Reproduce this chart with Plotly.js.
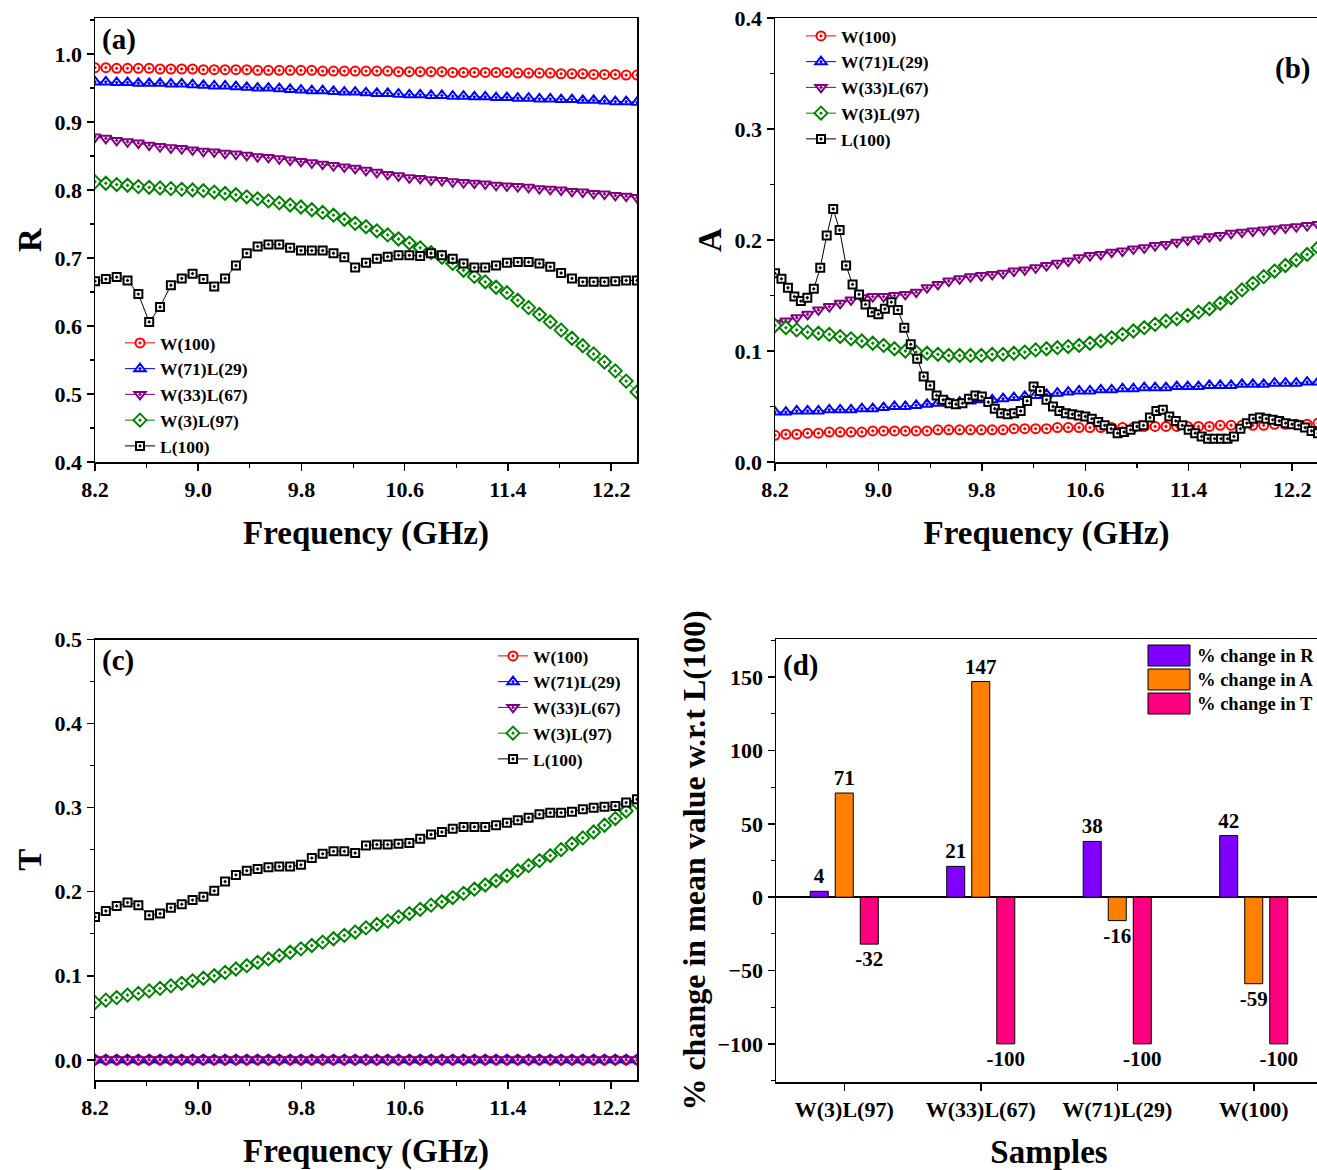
<!DOCTYPE html>
<html>
<head>
<meta charset="utf-8">
<script src="https://cdn.plot.ly/plotly-3.0.1.min.js"></script>
<style>
  html, body { margin: 0; padding: 0; overflow: hidden; background: #fff; }
  #chart { width: 1322px; height: 1170px; }
</style>
</head>
<body>
<div id="chart"></div>
<script>
// ---------------- DATA ----------------
const seriesNames = ['W(100)', 'W(71)L(29)', 'W(33)L(67)', 'W(3)L(97)', 'L(100)'];

const freq = [8.2,8.284,8.368,8.452,8.536,8.62,8.704,8.788,8.872,8.956,9.04,9.124,9.208,9.292,9.376,9.46,9.544,9.628,9.712,9.796,9.88,9.964,10.048,10.132,10.216,10.3,10.384,10.468,10.552,10.636,10.72,10.804,10.888,10.972,11.056,11.14,11.224,11.308,11.392,11.476,11.56,11.644,11.728,11.812,11.896,11.98,12.064,12.148,12.232,12.316,12.4];

const freqFine = [8.2,8.25,8.3,8.35,8.4,8.45,8.5,8.55,8.6,8.65,8.7,8.75,8.8,8.85,8.9,8.95,9.0,9.05,9.1,9.15,9.2,9.25,9.3,9.35,9.4,9.45,9.5,9.55,9.6,9.65,9.7,9.75,9.8,9.85,9.9,9.95,10.0,10.05,10.1,10.15,10.2,10.25,10.3,10.35,10.4,10.45,10.5,10.55,10.6,10.65,10.7,10.75,10.8,10.85,10.9,10.95,11.0,11.05,11.1,11.15,11.2,11.25,11.3,11.35,11.4,11.45,11.5,11.55,11.6,11.65,11.7,11.75,11.8,11.85,11.9,11.95,12.0,12.05,12.1,12.15,12.2,12.25,12.3,12.35,12.4];

// (a) Reflection R
const R_W100 = [0.980,0.980,0.979,0.979,0.979,0.979,0.978,0.978,0.978,0.978,0.977,0.977,0.977,0.977,0.977,0.976,0.976,0.976,0.976,0.976,0.976,0.975,0.975,0.975,0.975,0.975,0.975,0.975,0.974,0.974,0.974,0.974,0.974,0.973,0.973,0.973,0.973,0.973,0.973,0.972,0.972,0.972,0.972,0.971,0.971,0.971,0.970,0.970,0.970,0.969,0.969];
const R_W71L29 = [0.959,0.959,0.958,0.958,0.957,0.957,0.957,0.956,0.956,0.955,0.954,0.953,0.953,0.952,0.951,0.950,0.950,0.949,0.948,0.947,0.946,0.946,0.945,0.944,0.944,0.943,0.942,0.942,0.941,0.940,0.940,0.939,0.939,0.938,0.938,0.937,0.937,0.936,0.936,0.935,0.935,0.934,0.934,0.933,0.933,0.932,0.932,0.931,0.930,0.930,0.929];
const R_W33L67 = [0.878,0.876,0.873,0.871,0.869,0.866,0.864,0.862,0.861,0.859,0.857,0.856,0.854,0.853,0.851,0.849,0.848,0.846,0.844,0.842,0.840,0.838,0.836,0.834,0.832,0.829,0.826,0.823,0.821,0.818,0.817,0.815,0.814,0.812,0.811,0.810,0.809,0.807,0.806,0.805,0.804,0.802,0.801,0.800,0.798,0.797,0.795,0.794,0.792,0.791,0.789];
const R_W3L97 = [0.812,0.810,0.808,0.807,0.805,0.804,0.803,0.802,0.801,0.800,0.799,0.797,0.795,0.793,0.790,0.787,0.784,0.781,0.778,0.775,0.771,0.767,0.763,0.757,0.751,0.746,0.740,0.734,0.728,0.722,0.715,0.708,0.701,0.692,0.682,0.673,0.665,0.657,0.649,0.638,0.627,0.617,0.606,0.594,0.582,0.571,0.559,0.547,0.534,0.519,0.503];
const R_L100 = [0.666,0.669,0.672,0.667,0.647,0.606,0.628,0.660,0.670,0.677,0.669,0.658,0.670,0.689,0.707,0.717,0.720,0.720,0.715,0.711,0.711,0.711,0.707,0.701,0.686,0.693,0.699,0.702,0.704,0.704,0.703,0.707,0.704,0.699,0.692,0.686,0.686,0.689,0.693,0.694,0.694,0.692,0.687,0.678,0.670,0.665,0.665,0.665,0.666,0.667,0.667];

// (b) Absorption A
const A_W100 = [0.024,0.025,0.025,0.026,0.026,0.027,0.027,0.027,0.027,0.028,0.028,0.028,0.028,0.028,0.028,0.029,0.029,0.029,0.029,0.029,0.029,0.029,0.030,0.030,0.030,0.030,0.031,0.031,0.031,0.031,0.031,0.031,0.031,0.031,0.032,0.032,0.032,0.032,0.032,0.032,0.032,0.033,0.033,0.033,0.033,0.033,0.034,0.034,0.034,0.034,0.035];
const A_W71L29 = [0.045,0.045,0.046,0.046,0.046,0.047,0.047,0.047,0.048,0.048,0.049,0.050,0.050,0.051,0.052,0.053,0.053,0.054,0.055,0.056,0.056,0.057,0.058,0.059,0.060,0.061,0.062,0.063,0.064,0.064,0.065,0.065,0.066,0.066,0.067,0.067,0.067,0.068,0.068,0.068,0.069,0.069,0.069,0.070,0.070,0.070,0.071,0.071,0.071,0.072,0.072];
const A_W33L67 = [0.125,0.127,0.130,0.133,0.137,0.140,0.143,0.146,0.148,0.149,0.149,0.150,0.151,0.153,0.157,0.160,0.163,0.165,0.167,0.168,0.169,0.170,0.172,0.173,0.175,0.177,0.179,0.181,0.184,0.186,0.187,0.189,0.190,0.192,0.193,0.195,0.196,0.198,0.200,0.201,0.203,0.204,0.206,0.207,0.208,0.209,0.210,0.211,0.212,0.213,0.214];
const A_W3L97 = [0.123,0.121,0.119,0.117,0.116,0.115,0.113,0.111,0.109,0.107,0.105,0.102,0.100,0.099,0.098,0.097,0.096,0.096,0.096,0.096,0.097,0.097,0.098,0.099,0.101,0.102,0.103,0.104,0.105,0.107,0.109,0.112,0.115,0.118,0.121,0.124,0.127,0.129,0.132,0.135,0.138,0.143,0.148,0.155,0.161,0.167,0.172,0.177,0.182,0.187,0.193];
const A_L100 = [0.170,0.165,0.157,0.149,0.145,0.148,0.156,0.175,0.204,0.228,0.209,0.177,0.160,0.151,0.142,0.135,0.133,0.138,0.144,0.137,0.121,0.106,0.093,0.077,0.069,0.060,0.056,0.053,0.052,0.053,0.057,0.060,0.059,0.054,0.048,0.044,0.043,0.044,0.046,0.055,0.068,0.064,0.056,0.050,0.046,0.044,0.043,0.042,0.041,0.039,0.036,0.033,0.030,0.026,0.027,0.029,0.032,0.033,0.040,0.046,0.047,0.041,0.037,0.033,0.029,0.026,0.023,0.021,0.021,0.021,0.021,0.023,0.030,0.035,0.039,0.040,0.039,0.038,0.037,0.035,0.034,0.033,0.031,0.028,0.026];

// (c) Transmission T
const T_W100 = [0,0,0,0,0,0,0,0,0,0,0,0,0,0,0,0,0,0,0,0,0,0,0,0,0,0,0,0,0,0,0,0,0,0,0,0,0,0,0,0,0,0,0,0,0,0,0,0,0,0,0];
const T_W71L29 = [0,0,0,0,0,0,0,0,0,0,0,0,0,0,0,0,0,0,0,0,0,0,0,0,0,0,0,0,0,0,0,0,0,0,0,0,0,0,0,0,0,0,0,0,0,0,0,0,0,0,0];
const T_W33L67 = [0,0,0,0,0,0,0,0,0,0,0,0,0,0,0,0,0,0,0,0,0,0,0,0,0,0,0,0,0,0,0,0,0,0,0,0,0,0,0,0,0,0,0,0,0,0,0,0,0,0,0];
const T_W3L97 = [0.068,0.071,0.074,0.077,0.079,0.082,0.085,0.088,0.091,0.094,0.097,0.100,0.104,0.108,0.112,0.116,0.120,0.124,0.128,0.132,0.136,0.140,0.144,0.148,0.152,0.157,0.161,0.165,0.170,0.174,0.179,0.184,0.188,0.193,0.198,0.203,0.208,0.213,0.219,0.225,0.231,0.237,0.243,0.250,0.257,0.264,0.271,0.279,0.287,0.296,0.306];
const T_L100 = [0.170,0.177,0.183,0.187,0.184,0.172,0.174,0.181,0.185,0.190,0.194,0.201,0.212,0.220,0.225,0.227,0.229,0.230,0.230,0.232,0.240,0.245,0.248,0.248,0.246,0.255,0.256,0.256,0.257,0.258,0.263,0.268,0.271,0.275,0.277,0.277,0.277,0.279,0.282,0.285,0.288,0.292,0.294,0.294,0.295,0.298,0.300,0.301,0.302,0.306,0.310];

// (d) % change in mean value w.r.t. L(100)
const samples = ['W(3)L(97)', 'W(33)L(67)', 'W(71)L(29)', 'W(100)'];
const changeNames = ['% change in R', '% change in A', '% change in T'];
const changeR = [4, 21, 38, 42];
const changeA = [71, 147, -16, -59];
const changeT = [-32, -100, -100, -100];

const xTickVals = [8.2, 9.0, 9.8, 10.6, 11.4, 12.2];
const xTickText = ['8.2', '9.0', '9.8', '10.6', '11.4', '12.2'];

// ---------------- STYLE ----------------
const W = 1322, H = 1170;
const px = v => v / W;
const py = v => 1 - v / H;
const FONT = 'Liberation Serif, Times New Roman, serif';
const colors = ['#FF0000', '#0000FF', '#800080', '#008000', '#000000'];
const symbols = ['circle-dot', 'triangle-up-dot', 'triangle-down-dot', 'diamond-dot', 'square-dot'];
const msize = [9, 10, 10, 10, 8];
const barColors = ['#7F00FF', '#FF8000', '#FF0080'];

function lineTrace(x, y, i, xa, ya, leg) {
  return {
    type: 'scatter', mode: 'lines+markers', x: x, y: y, name: seriesNames[i],
    xaxis: xa, yaxis: ya, legend: leg, cliponaxis: true,
    line: { color: colors[i], width: 1 },
    marker: { symbol: symbols[i], size: msize[i], color: '#ffffff', line: { color: colors[i], width: 2 } }
  };
}

const traces = [
  lineTrace(freq, R_W100, 0, 'x', 'y', 'legend'),
  lineTrace(freq, R_W71L29, 1, 'x', 'y', 'legend'),
  lineTrace(freq, R_W33L67, 2, 'x', 'y', 'legend'),
  lineTrace(freq, R_W3L97, 3, 'x', 'y', 'legend'),
  lineTrace(freq, R_L100, 4, 'x', 'y', 'legend'),
  lineTrace(freq, A_W100, 0, 'x2', 'y2', 'legend2'),
  lineTrace(freq, A_W71L29, 1, 'x2', 'y2', 'legend2'),
  lineTrace(freq, A_W33L67, 2, 'x2', 'y2', 'legend2'),
  lineTrace(freq, A_W3L97, 3, 'x2', 'y2', 'legend2'),
  lineTrace(freqFine, A_L100, 4, 'x2', 'y2', 'legend2'),
  lineTrace(freq, T_W100, 0, 'x3', 'y3', 'legend3'),
  lineTrace(freq, T_W71L29, 1, 'x3', 'y3', 'legend3'),
  lineTrace(freq, T_W33L67, 2, 'x3', 'y3', 'legend3'),
  lineTrace(freq, T_W3L97, 3, 'x3', 'y3', 'legend3'),
  lineTrace(freq, T_L100, 4, 'x3', 'y3', 'legend3')
];

const changeSets = [changeR, changeA, changeT];
changeSets.forEach((vals, j) => {
  traces.push({
    type: 'bar', x: samples, y: vals, name: changeNames[j], xaxis: 'x4', yaxis: 'y4',
    showlegend: false,
    marker: { color: barColors[j], line: { color: '#000', width: 1 } },
    text: vals.map(v => String(v)), textposition: 'outside', constraintext: 'none', cliponaxis: false,
    textfont: { family: FONT, size: 21, color: '#000', weight: 'bold' }
  });
});

const tickFont = { family: FONT, size: 22, color: '#000', weight: 'bold' };
const titleFont = { family: FONT, size: 33, color: '#000', weight: 'bold' };

function axisBase(extra) {
  return Object.assign({
    showline: true, linecolor: '#000', linewidth: 1.5, mirror: true,
    ticks: 'outside', ticklen: 7, tickwidth: 1.5, tickcolor: '#000',
    showgrid: false, zeroline: false, tickfont: tickFont, automargin: false,
    minor: { ticks: 'outside', ticklen: 4, tickwidth: 1.2, tickcolor: '#000', showgrid: false }
  }, extra);
}

function freqAxis(domain, anchor) {
  return axisBase({
    domain: domain, anchor: anchor, range: [8.2, 12.4],
    tickmode: 'array', tickvals: xTickVals, ticktext: xTickText,
    minor: { tickmode: 'linear', tick0: 8.2, dtick: 0.4, ticks: 'outside', ticklen: 4, tickwidth: 1.2, tickcolor: '#000', showgrid: false },
    title: { text: 'Frequency (GHz)', font: titleFont, standoff: 20 }
  });
}

const legendFont = { family: FONT, size: 17.5, color: '#000', weight: 'bold' };
const legendBase = { bgcolor: 'rgba(0,0,0,0)', borderwidth: 0, font: legendFont, xanchor: 'left', yanchor: 'top', tracegroupgap: 0 };

const yA = [py(462), py(18)];
const yC = [py(1080), py(639.5)];
const yD = [py(1082), py(639)];
const yMinor = (d) => ({ dtick: d, ticks: 'outside', ticklen: 4, tickwidth: 1.2, tickcolor: '#000', showgrid: false });

const layout = {
  width: W, height: H,
  margin: { l: 0, r: 0, t: 0, b: 0 },
  paper_bgcolor: '#fff', plot_bgcolor: '#fff',
  font: { family: FONT, color: '#000' },
  barmode: 'group', bargap: 0.45, bargroupgap: 0.28,
  xaxis: freqAxis([px(95), px(637)], 'y'),
  yaxis: axisBase({ domain: yA, anchor: 'x', range: [0.4, 1.053], dtick: 0.1, tick0: 0.4, tickformat: '.1f',
    minor: yMinor(0.05), title: { text: 'R', font: titleFont, standoff: 3 } }),
  xaxis2: freqAxis([px(775), px(1318)], 'y2'),
  yaxis2: axisBase({ domain: yA, anchor: 'x2', range: [0, 0.4], dtick: 0.1, tick0: 0, tickformat: '.1f',
    minor: yMinor(0.05), title: { text: 'A', font: titleFont, standoff: 3 } }),
  xaxis3: freqAxis([px(95), px(637)], 'y3'),
  yaxis3: axisBase({ domain: yC, anchor: 'x3', range: [-0.024, 0.5], dtick: 0.1, tick0: 0, tickformat: '.1f',
    minor: yMinor(0.05), title: { text: 'T', font: titleFont, standoff: 3 } }),
  xaxis4: axisBase({ domain: [px(776), 1], anchor: 'y4', range: [-0.5, 3.5], type: 'category',
    minor: undefined,
    title: { text: 'Samples', font: titleFont, standoff: 20 } }),
  yaxis4: axisBase({ domain: yD, anchor: 'x4', range: [-126, 176], dtick: 50, tick0: 0,
    zeroline: true, zerolinecolor: '#000', zerolinewidth: 1.5,
    minor: yMinor(25),
    title: { text: '% change in mean value w.r.t L(100)', font: { family: FONT, size: 32, color: '#000', weight: 'bold' }, standoff: 2 } }),
  legend: Object.assign({ x: px(120), y: py(325) }, legendBase),
  legend2: Object.assign({ x: px(801), y: py(18) }, legendBase),
  legend3: Object.assign({ x: px(493), y: py(638) }, legendBase),
  annotations: [],
  shapes: []
};

const panelFont = { family: FONT, size: 29, color: '#000', weight: 'bold' };
[['(a)', 100, 40, 'left'], ['(b)', 1312, 68, 'right'], ['(c)', 100, 660, 'left'], ['(d)', 781, 665, 'left']].forEach(p => {
  layout.annotations.push({ text: p[0], xref: 'paper', yref: 'paper', x: px(p[1]), y: py(p[2]),
    xanchor: p[3], yanchor: 'middle', showarrow: false, font: panelFont });
});

// legend for panel (d)
changeNames.forEach((n, j) => {
  const top = 645 + j * 24;
  layout.shapes.push({ type: 'rect', xref: 'paper', yref: 'paper', x0: px(1148), x1: px(1190), y0: py(top + 21), y1: py(top),
    fillcolor: barColors[j], line: { color: '#000', width: 1 } });
  layout.annotations.push({ text: n, xref: 'paper', yref: 'paper', x: px(1195), y: py(top + 10.5),
    xanchor: 'left', yanchor: 'middle', showarrow: false, font: { family: FONT, size: 18.5, color: '#000', weight: 'bold' } });
});

Plotly.newPlot('chart', traces, layout, { displayModeBar: false, staticPlot: true });
</script>
</body>
</html>
